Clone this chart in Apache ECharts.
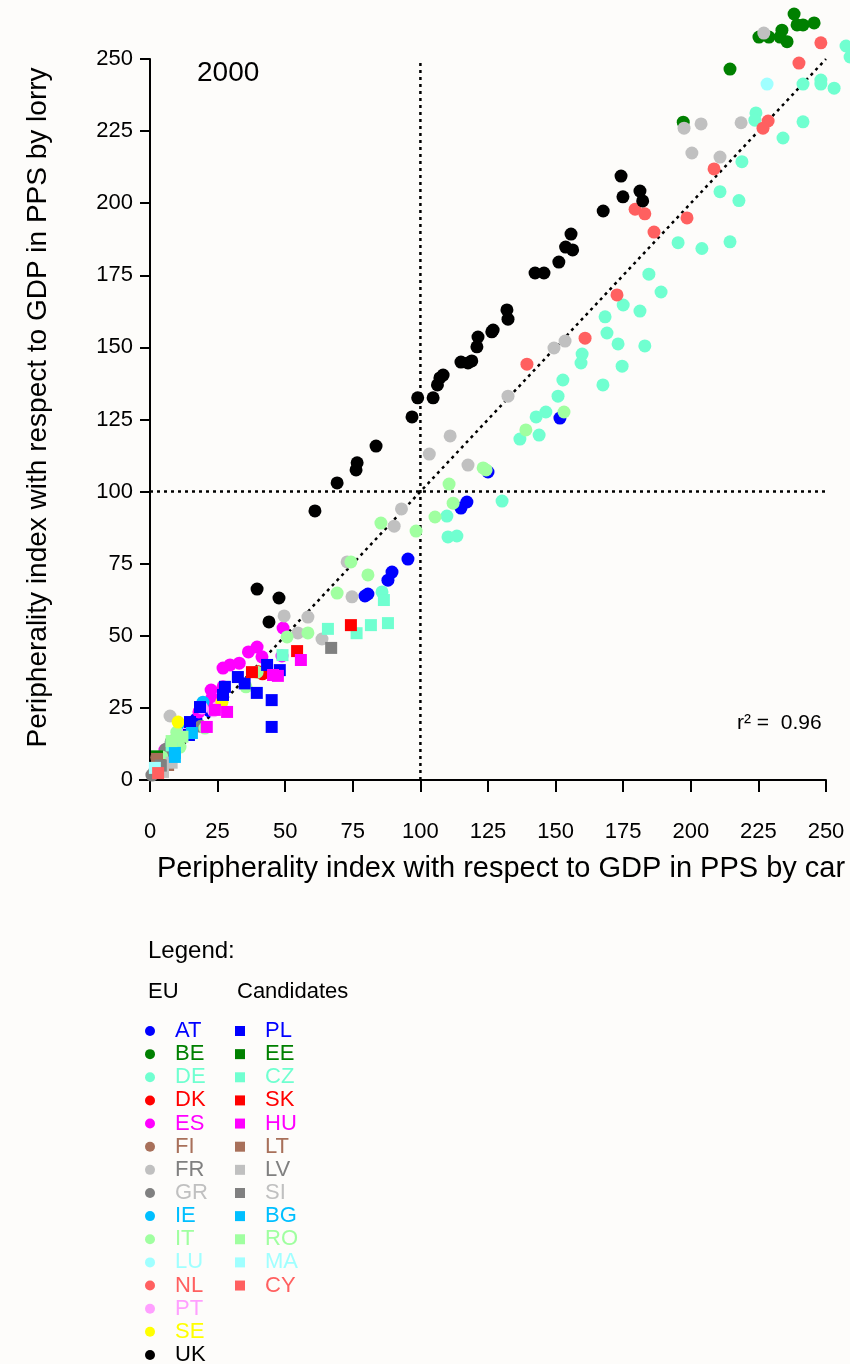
<!DOCTYPE html>
<html>
<head>
<meta charset="utf-8">
<script src="https://cdn.jsdelivr.net/npm/echarts@6/dist/echarts.min.js"></script>
<style>
  html, body { margin: 0; padding: 0; background: #fdfcfa; }
  #chart { width: 850px; height: 1364px; }
</style>
</head>
<body>
<div id="chart"></div>
<script>
// axis ticks
const xTicks = [0, 25, 50, 75, 100, 125, 150, 175, 200, 225, 250];
const yTicks = [0, 25, 50, 75, 100, 125, 150, 175, 200, 225, 250];

// reference lines (dotted)
const diagLine = [[0, 0], [250, 250]];
const vLine = [[100, 0], [100, 250]];
const hLine = [[0, 100], [250, 100]];

// EU members, [car, lorry]
const AT = [[95.4, 76.6], [89.5, 72.1], [88, 69.3], [79.5, 63.8], [80.6, 64.5], [117.2, 96.4], [115, 94.3], [125, 106.8], [151.6, 125.5], [22, 24], [17, 21]];
const BE = [[238.2, 265.6], [239.3, 261.8], [241.5, 261.8], [245.6, 262.5], [233.7, 260], [233, 257.6], [235.6, 256], [225.2, 257.6], [228.9, 257.6], [214.5, 246.5], [197.2, 228.1]];
const DE = [[218.9, 214.4], [210.8, 204], [217.8, 200.9], [195.3, 186.3], [204.1, 184.3], [214.5, 186.6], [184.5, 175.4], [189, 169.2], [224.1, 231.3], [223.7, 228.8], [234.1, 222.6], [241.5, 228.2], [241.5, 241.3], [248.1, 242.7], [248.1, 241.3], [253, 239.9], [257.4, 254.5], [258.9, 250.7],
  [175, 164.7], [181.2, 162.6], [168.3, 160.6], [169, 155], [173.1, 151.2], [183, 150.5], [174.6, 143.5], [167.5, 137], [159.8, 147.7], [159.4, 144.6], [152.7, 138.7], [150.9, 133.1], [146.4, 127.6], [142.8, 125.9], [136.8, 118.2], [143.9, 119.6], [130.2, 96.7], [109.8, 91.5], [110.2, 84.3], [113.5, 84.6], [85.8, 65.2]];
const DK = [[41.6, 36.8], [40, 37.5]];
const ES = [[39.6, 46.1], [36.4, 44.4], [41.4, 42.7], [29.6, 39.9], [27, 38.8], [49.2, 52.7], [48.8, 43], [22.6, 31.2], [27, 32.3], [22.9, 28.4], [18.1, 23.6], [5.5, 10.4], [25.9, 27.7], [22.2, 26.7], [33, 40.5]];
const FI = [[2.5, 7.8], [7, 9]];
const FR = [[227, 259], [197.5, 226], [203.8, 227.5], [218.6, 227.9], [200.4, 217.4], [210.8, 216], [149.4, 149.8], [153.5, 152.2], [132.4, 133.1], [111, 119.3], [103.3, 113], [117.6, 109.2], [93, 94], [90.3, 88], [72.9, 75.6], [74.7, 63.5], [49.6, 56.9], [58.4, 56.5], [54.7, 51], [63.6, 48.9], [7.4, 22.2]];
const GR = [[18.8, 18.6], [11.7, 16.7], [9.9, 15], [7.8, 13.2], [5.9, 10.7], [1.8, 3.1], [0.7, 1.7], [11, 16], [6.3, 10.4]];
const IE = [[19.6, 27], [12, 18]];
const IT = [[153.1, 127.6], [139, 121.4], [123.2, 108.2], [124.3, 107.5], [110.6, 102.6], [112.1, 96], [105.4, 91.2], [98.4, 86.3], [85.4, 89.1], [74.3, 75.6], [80.6, 71.1], [69.2, 64.8], [58.4, 51], [50.7, 49.6], [39.6, 37.4], [35.5, 32.3], [20.3, 18], [11.1, 11.4], [4.4, 8], [9.9, 16.6]];
const LU = [[228.2, 241.3], [3, 4]];
const NL = [[248.1, 255.6], [240, 248.6], [228.6, 228.5], [226.7, 226], [208.6, 211.9], [179.4, 197.9], [183, 196.3], [186.4, 190], [198.6, 194.9], [172.7, 168.2], [160.9, 153.2], [139.4, 144.2]];
const PT = [[25.2, 25.3], [14.1, 16.6], [19.2, 25], [23.5, 24]];
const SE = [[10.4, 20.1], [26.6, 27]];
const UK = [[39.6, 66.2], [47.7, 63.1], [44, 54.8], [61, 93.3], [69.2, 103], [76.2, 107.5], [76.6, 110], [83.6, 115.8], [96.9, 125.9], [99, 132.5], [104.7, 132.5], [106.3, 137], [107.2, 139.4], [108.4, 140.4], [115, 144.9], [117.6, 144.6], [119, 145.3], [120.9, 150.2], [121.3, 153.6], [126.4, 155.4], [126.9, 156], [132, 163], [132.4, 159.8], [142.4, 175.8], [145.7, 175.8], [151.2, 179.6], [153.7, 184.8], [156.3, 183.8], [155.7, 189.3], [167.6, 197.3], [174.2, 209.4], [174.9, 202.2], [181.2, 204.2], [182.2, 200.8]];

// candidate countries
const PL = [[45, 18.4], [45, 27.7], [39.5, 30.2], [43.3, 39.9], [48, 38.1], [32.5, 35.7], [27.7, 32.3], [27, 29.5], [18.5, 25.3], [14.8, 20.1], [14.4, 15.6], [35, 33.5]];
const EE = [[2.6, 8.2]];
const CZ = [[65.8, 52.4], [76.4, 50.9], [81.7, 53.7], [88, 54.4], [86.5, 62.4], [49, 43.3], [8, 12], [3, 4.5]];
const SK = [[54.4, 44.7], [74.3, 53.7], [37.7, 37.4]];
const HU = [[55.8, 41.6], [45.5, 36.4], [47.3, 36.1], [28.5, 23.6], [21, 18.4], [24, 24.3]];
const LT = [[2.6, 7.3], [6.7, 5.2]];
const LV = [[4.8, 2.8], [8, 6]];
const SI = [[67, 45.8], [4, 5]];
const BG = [[9.2, 8], [15.5, 16.3], [9.2, 9.4]];
const RO = [[8, 13.5], [12, 15]];
const MA = [[1.8, 4.2]];
const CY = [[3, 2.4]];

const euList = [['AT', AT], ['BE', BE], ['DE', DE], ['DK', DK], ['ES', ES], ['FI', FI], ['FR', FR], ['GR', GR], ['IE', IE], ['IT', IT], ['LU', LU], ['NL', NL], ['PT', PT], ['SE', SE], ['UK', UK]];
const candList = [['PL', PL], ['EE', EE], ['CZ', CZ], ['SK', SK], ['HU', HU], ['LT', LT], ['LV', LV], ['SI', SI], ['BG', BG], ['RO', RO], ['MA', MA], ['CY', CY]];

// marker colour / legend text colour
const palette = {
  AT: ['#0000ff', '#0000ff'], BE: ['#008000', '#008000'], DE: ['#70ffd0', '#70ffd0'],
  DK: ['#ff0000', '#ff0000'], ES: ['#ff00ff', '#ff00ff'], FI: ['#a8705a', '#a8705a'],
  FR: ['#c0c0c0', '#808080'], GR: ['#808080', '#c0c0c0'], IE: ['#00bfff', '#00bfff'],
  IT: ['#a0ffa0', '#a0ffa0'], LU: ['#a0ffff', '#a0ffff'], NL: ['#ff6060', '#ff6060'],
  PT: ['#ffa0ff', '#ffa0ff'], SE: ['#ffff00', '#ffff00'], UK: ['#000000', '#000000'],
  PL: ['#0000ff', '#0000ff'], EE: ['#008000', '#008000'], CZ: ['#70ffd0', '#70ffd0'],
  SK: ['#ff0000', '#ff0000'], HU: ['#ff00ff', '#ff00ff'], LT: ['#a8705a', '#a8705a'],
  LV: ['#c0c0c0', '#808080'], SI: ['#808080', '#c0c0c0'], BG: ['#00bfff', '#00bfff'],
  RO: ['#a0ffa0', '#a0ffa0'], MA: ['#a0ffff', '#a0ffff'], CY: ['#ff6060', '#ff6060']
};

const FONT = 'Liberation Sans, Arial, sans-serif';

const dotted = (data) => ({
  type: 'line', data: data, symbol: 'none', silent: true, z: 1,
  lineStyle: { color: '#000', width: 2.5, type: [3, 4] }
});

const series = [dotted(diagLine), dotted(vLine), dotted(hLine)];
euList.forEach(([name, data]) => series.push({
  name: name, type: 'scatter', data: data, symbol: 'circle', symbolSize: 13, clip: false, z: 3,
  itemStyle: { color: palette[name][0], opacity: 1 }, emphasis: { disabled: true }
}));
candList.forEach(([name, data]) => series.push({
  name: name, type: 'scatter', data: data, symbol: 'rect', symbolSize: 12, clip: false, z: 3,
  itemStyle: { color: palette[name][0], opacity: 1 }, emphasis: { disabled: true }
}));

const legendBase = {
  orient: 'vertical', top: 1020, height: 380, padding: 0, itemWidth: 10, itemHeight: 10, itemGap: 1.14,
  textStyle: { fontFamily: FONT, fontSize: 22, lineHeight: 22, padding: [0, 0, 0, 15] }
};

const chart = echarts.init(document.getElementById('chart'));
chart.setOption({
  backgroundColor: '#fdfcfa',
  animation: false,
  textStyle: { fontFamily: FONT },
  grid: { left: 150, top: 59, width: 676, height: 721, containLabel: false, outerBoundsMode: 'none' },
  xAxis: {
    type: 'value', min: xTicks[0], max: xTicks[xTicks.length - 1], interval: 25,
    name: 'Peripherality index with respect to GDP in PPS by car',
    nameLocation: 'middle', nameGap: 74,
    nameTextStyle: { color: '#000', fontSize: 29, fontFamily: FONT, padding: [0, 0, 0, 26] },
    axisLine: { show: true, lineStyle: { color: '#000', width: 2 } },
    axisTick: { show: true, length: 12, lineStyle: { color: '#000', width: 2 } },
    axisLabel: { color: '#000', fontSize: 22, margin: 41, fontFamily: FONT },
    splitLine: { show: false }
  },
  yAxis: {
    type: 'value', min: yTicks[0], max: yTicks[yTicks.length - 1], interval: 25,
    name: 'Peripherality index with respect to GDP in PPS by lorry',
    nameLocation: 'middle', nameGap: 98,
    nameTextStyle: { color: '#000', fontSize: 28, fontFamily: FONT, padding: [0, 0, 0, 24] },
    axisLine: { show: true, lineStyle: { color: '#000', width: 2 } },
    axisTick: { show: true, length: 10, lineStyle: { color: '#000', width: 2 } },
    axisLabel: { color: '#000', fontSize: 22, margin: 17, fontFamily: FONT },
    splitLine: { show: false }
  },
  legend: [
    Object.assign({}, legendBase, {
      left: 145, icon: 'circle',
      data: euList.map(([n]) => ({ name: n, textStyle: { color: palette[n][1] } }))
    }),
    Object.assign({}, legendBase, {
      left: 235, icon: 'rect',
      data: candList.map(([n]) => ({ name: n, textStyle: { color: palette[n][1] } }))
    })
  ],
  graphic: [
    { type: 'line', shape: { x1: 139, y1: 780, x2: 150, y2: 780 }, style: { stroke: '#000', lineWidth: 2 } },
    { type: 'text', x: 197, y: 73, style: { text: '2000', font: '28px ' + FONT, fill: '#000', verticalAlign: 'middle' } },
    { type: 'text', x: 737, y: 723, style: { text: 'r² =  0.96', font: '21px ' + FONT, fill: '#000', verticalAlign: 'middle' } },
    { type: 'text', x: 148, y: 951, style: { text: 'Legend:', font: '24px ' + FONT, fill: '#000', verticalAlign: 'middle' } },
    { type: 'text', x: 148, y: 992, style: { text: 'EU', font: '22px ' + FONT, fill: '#000', verticalAlign: 'middle' } },
    { type: 'text', x: 237, y: 992, style: { text: 'Candidates', font: '22px ' + FONT, fill: '#000', verticalAlign: 'middle' } }
  ],
  series: series
});
</script>
</body>
</html>
